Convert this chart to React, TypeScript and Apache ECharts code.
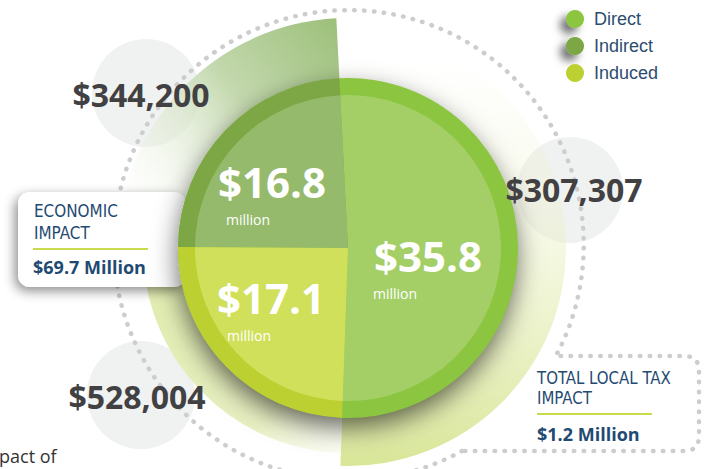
import React, { useEffect, useRef } from 'react';
import * as echarts from 'echarts';

// ---- data ----
const categories = ['Direct', 'Indirect', 'Induced'];
const economicValues = [35.8, 16.8, 17.1]; // $ million
const taxValues = [307307, 344200, 528004]; // $
const economicTitle = ['ECONOMIC', 'IMPACT'];
const economicTotal = 69.7; // $ million
const taxTitle = ['TOTAL LOCAL TAX', 'IMPACT'];
const taxTotal = 1.2; // $ million
const unitLabel = 'million';
const footText = 'pact of';

// ---- styles / layout ----
const W = 709, H = 469;
const CX = 348, CY = 248;
const RIM_R = 170, FILL_R = 153;
const START = 268;
const rimColors = ['#8cc540', '#7ca744', '#bdd031'];
const fillColors = ['#a3cf66', '#95ba6c', '#d0e05a'];
const taxRadii = [218, 230, 205];
const econLabelPos = [[428, 255, 373, 293], [272, 181, 226, 219], [271, 297, 227, 335]];
const taxLabelPos = [[574, 189], [141, 94], [137, 396]];
const greyCircles = [[570, 190, 53], [146, 93, 54], [141, 395, 54]];
const NAVY = '#1f4a72';
const BIG_FONT = '"Open Sans", "DejaVu Sans", sans-serif';
const NARROW_FONT = '"Liberation Sans Narrow", "DejaVu Sans Condensed", "Open Sans", sans-serif';

const taxGradients = [
  { type: 'linear', x: 0, y: 60, x2: 0, y2: 466, global: true, colorStops: [
    { offset: 0, color: 'rgba(236,242,200,0)' },
    { offset: 0.35, color: 'rgba(236,242,200,0.35)' },
    { offset: 1, color: '#d8e697' },
  ] },
  { type: 'linear', x: 335, y: 20, x2: 130, y2: 195, global: true, colorStops: [
    { offset: 0, color: '#9dc07b' },
    { offset: 0.45, color: '#c3d8ad' },
    { offset: 1, color: 'rgba(250,252,246,0.2)' },
  ] },
  { type: 'linear', x: 165, y: 320, x2: 345, y2: 468, global: true, colorStops: [
    { offset: 0, color: '#e2edb3' },
    { offset: 0.6, color: '#e8f0c3' },
    { offset: 1, color: 'rgba(248,250,235,0.3)' },
  ] },
];

const fmtMoney = (v: number) => '$' + v.toLocaleString('en-US');

const dottedD = 'M 462 451 A 235 235 0 1 1 558 352 L 555 356 L 684 356 Q 699 356 699 371 L 699 436 Q 699 451 684 451 Z';

let registered = false;
function ensureShape() {
  if (registered) return;
  echarts.graphic.registerShape('dottedLoop', echarts.graphic.extendPath(dottedD, {}) as any);
  registered = true;
}

function pieBase(name: string, radius: number, z: number) {
  return {
    type: 'pie',
    name,
    center: [CX, CY],
    radius: [0, radius],
    startAngle: START,
    clockwise: false,
    silent: true,
    z,
    avoidLabelOverlap: false,
    label: { show: false },
    labelLine: { show: false },
    emphasis: { disabled: true },
  };
}

function txt(text: string, x: number, y: number, o: any) {
  return {
    type: 'text', x, y, z: 20, silent: true,
    scaleX: o.scaleX || 1,
    style: {
      text,
      fill: o.fill,
      fontSize: o.size,
      lineHeight: o.lh || o.size,
      fontFamily: o.family || BIG_FONT,
      fontWeight: o.weight || 'normal',
      textAlign: o.align || 'left',
      textVerticalAlign: o.valign || 'middle',
    },
  };
}

export default function App() {
  const ref = useRef<HTMLDivElement>(null);
  useEffect(() => {
    if (!ref.current) return;
    ensureShape();
    const chart = echarts.init(ref.current, undefined, { renderer: 'svg', width: W, height: H });
    const total = economicValues.reduce((a, b) => a + b, 0);

    const taxSeries = categories.map((c, i) => ({
      ...pieBase(c + ' tax', taxRadii[i], 1),
      data: categories.map((cc, j) => ({
        name: cc + ' tax',
        value: economicValues[j],
        itemStyle: { color: j === i ? taxGradients[i] : 'rgba(0,0,0,0)', borderWidth: 0 },
      })),
    }));

    const graphics: any[] = [];
    greyCircles.forEach(([x, y, r]) => graphics.push({
      type: 'circle', z: 0, silent: true, shape: { cx: x, cy: y, r }, style: { fill: '#f0f1f1' },
    }));
    graphics.push({
      type: 'dottedLoop', x: 0, y: 0, z: 2, silent: true,
      style: { fill: 'none', stroke: '#cdcdcd', lineWidth: 4.5, lineDash: [0.5, 9.4], lineCap: 'round' },
    });
    graphics.push({
      type: 'rect', z: 3, silent: true,
      shape: { x: 18, y: 192, width: 168, height: 95, r: 12 },
      style: { fill: '#ffffff', shadowBlur: 12, shadowColor: 'rgba(0,0,0,0.45)', shadowOffsetX: -3, shadowOffsetY: 4 },
    });
    // economic impact box
    graphics.push(txt(economicTitle[0], 34, 211, { fill: NAVY, size: 18, family: NARROW_FONT, scaleX: 0.94 }));
    graphics.push(txt(economicTitle[1], 34, 233, { fill: NAVY, size: 18, family: NARROW_FONT, scaleX: 0.94 }));
    graphics.push({ type: 'line', z: 20, silent: true, shape: { x1: 33, y1: 249, x2: 148, y2: 249 }, style: { stroke: '#c9da4c', lineWidth: 2 } });
    graphics.push(txt('$' + economicTotal.toFixed(1) + ' Million', 33, 267, { fill: NAVY, size: 18, weight: 'bold' }));
    // tax callout
    graphics.push(txt(taxTitle[0], 537, 378, { fill: NAVY, size: 18, family: NARROW_FONT, scaleX: 0.925 }));
    graphics.push(txt(taxTitle[1], 537, 398, { fill: NAVY, size: 18, family: NARROW_FONT, scaleX: 0.925 }));
    graphics.push({ type: 'line', z: 20, silent: true, shape: { x1: 537, y1: 414, x2: 652, y2: 414 }, style: { stroke: '#c9da4c', lineWidth: 2 } });
    graphics.push(txt('$' + taxTotal.toFixed(1) + ' Million', 537, 434, { fill: NAVY, size: 18, weight: 'bold' }));
    // tax numbers
    taxValues.forEach((v, i) => graphics.push(
      txt(fmtMoney(v), taxLabelPos[i][0], taxLabelPos[i][1], { fill: '#414042', size: 32, weight: 'bold', align: 'center' })
    ));
    // economic numbers
    economicValues.forEach((v, i) => {
      const p = econLabelPos[i];
      graphics.push(txt('$' + v.toFixed(1), p[0], p[1], { fill: '#ffffff', size: 42, lh: 40, weight: 'bold', align: 'center' }));
      graphics.push(txt(unitLabel, p[2], p[3], { fill: '#ffffff', size: 14 }));
    });
    graphics.push(txt(footText, -1, 465, { fill: '#333333', size: 18, valign: 'bottom' }));

    chart.setOption({
      animation: false,
      backgroundColor: '#ffffff',
      legend: {
        data: categories.map((c, i) => ({
          name: c,
          itemStyle: i < 2 ? { shadowBlur: 8, shadowColor: 'rgba(0,0,0,0.55)', shadowOffsetX: -6, shadowOffsetY: 6 } : {},
        })),
        orient: 'vertical',
        left: 566,
        top: 10,
        itemWidth: 24,
        itemHeight: 18,
        itemGap: 9,
        icon: 'circle',
        selectedMode: false,
        padding: 0,
        textStyle: { fontSize: 18, color: '#2c4d6f', fontFamily: '"Liberation Sans", Arial, sans-serif', padding: [0, 0, 0, 2] },
      },
      graphic: { elements: graphics },
      series: [
        {
          ...pieBase('Rim', RIM_R, 5),
          data: categories.map((c, i) => ({ name: c, value: economicValues[i], itemStyle: { color: rimColors[i], borderWidth: 0 } })),
        },
        {
          ...pieBase('Fill', FILL_R, 6),
          data: categories.map((c, i) => ({ name: c, value: economicValues[i], itemStyle: { color: fillColors[i], borderWidth: 0 } })),
        },
        {
          ...pieBase('Backdrop', RIM_R - 1, 4),
          data: [{ name: 'Total', value: total, itemStyle: { color: '#8fc24a', borderWidth: 0, shadowBlur: 26, shadowColor: 'rgba(0,0,0,0.6)', shadowOffsetY: 10 } }],
        },
        ...taxSeries,
      ],
    } as any);
    return () => chart.dispose();
  }, []);
  return <div ref={ref} style={{ position: 'fixed', left: 0, top: 0, width: W, height: H }} />;
}
